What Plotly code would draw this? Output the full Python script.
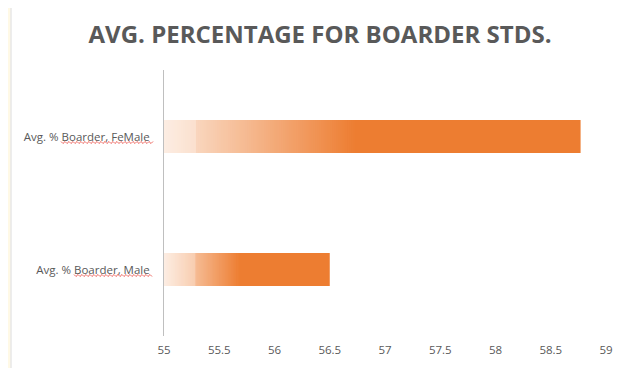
import numpy as np
import plotly.graph_objects as go

# ---- data ----
categories = ["Avg. % Boarder, Male", "Avg. % Boarder, FeMale"]
values = [56.5, 58.77]
tick_vals = [55, 55.5, 56, 56.5, 57, 57.5, 58, 58.5, 59]
tick_text = ["55", "55.5", "56", "56.5", "57", "57.5", "58", "58.5", "59"]
title_text = "AVG. PERCENTAGE FOR BOARDER STDS."

AXIS_MIN, AXIS_MAX = 55, 59
ORANGE = np.array([237, 125, 49])
WHITE = np.array([255, 255, 255])
N_SEG = 90
GRAD_FRAC = 0.46      # share of the bar covered by the fade-in
STEP_AT = 55.28       # lighter patch at the start of each bar


def mix(t):
    c = WHITE + (ORANGE - WHITE) * t
    return "rgb(%d,%d,%d)" % tuple(np.round(c).astype(int))


def shade(x, g_end):
    f = (x - AXIS_MIN) / (g_end - AXIS_MIN)
    t = min(1.0, 0.18 + 0.82 * f)
    if x < STEP_AT:
        t *= 0.75
    return t


fig = go.Figure()
for cat, v in zip(categories, values):
    span = v - AXIS_MIN
    g_end = AXIS_MIN + span * GRAD_FRAC
    # nested bars, all starting at the axis minimum: longest (full orange) first,
    # then progressively shorter & lighter ones drawn on top -> seamless gradient
    grad_ends = list(np.linspace(g_end, AXIS_MIN, N_SEG + 1)[:-1])
    ends = [v] + grad_ends
    step = (g_end - AXIS_MIN) / N_SEG
    cols = [mix(1.0)] + [mix(shade(e - step / 2, g_end)) for e in grad_ends]
    widths = [e - AXIS_MIN for e in ends]
    fig.add_trace(go.Bar(
        y=[cat] * len(widths), x=widths, base=[AXIS_MIN] * len(widths), orientation="h",
        marker=dict(color=cols, line=dict(width=0)),
        showlegend=False, hoverinfo="skip"))

# page body has an 8px margin, so figure coords = target coords - 8
OFF = 8
W, H = 631, 368
PL, PR, PT, PB = 164, 606, 70, 336   # plot area in target pixels
L = PL - OFF
R = W - (PR - OFF)
T = PT - OFF
B = H - (PB - OFF)
pw, ph = W - L - R, H - T - B
BAR_PX = 33
bargap = 1 - BAR_PX / (ph / len(categories))


def px_x(px):
    return (px - OFF - L) / pw


def px_y(py):
    return (H - B - (py - OFF)) / ph


# light cream strip at left edge and chart border
fig.add_shape(type="rect", xref="paper", yref="paper",
              x0=px_x(0), x1=px_x(10.5), y0=px_y(0), y1=px_y(380),
              fillcolor="#fff9e6", line=dict(width=0), layer="below")
fig.add_shape(type="line", xref="paper", yref="paper",
              x0=px_x(11), x1=px_x(11), y0=px_y(0), y1=px_y(380),
              line=dict(color="#dcdcdc", width=1), layer="below")


# red spell-check squiggles under the labels
def squiggle(x0, x1, y):
    pts = []
    x = x0
    k = 0
    while x <= x1:
        yy = y + (1.5 if k % 2 else -0.5)
        pts.append((px_x(x), px_y(yy)))
        x += 2
        k += 1
    return "M " + " L ".join("%.5f,%.5f" % p for p in pts)


for (sx0, sx1, sy) in [(61, 153, 142), (74, 153, 275)]:
    fig.add_shape(type="path", xref="paper", yref="paper", path=squiggle(sx0, sx1, sy),
                  line=dict(color="#e8433a", width=0.8))

fig.update_layout(
    width=W, height=H,
    margin=dict(l=L, r=R, t=T, b=B),
    paper_bgcolor="white",
    plot_bgcolor="rgba(0,0,0,0)",
    barmode="overlay",
    bargap=bargap,
    title=dict(text="<b>" + title_text + "</b>", x=(320 - OFF) / W, xanchor="center",
               xref="container",
               y=1 - (35 - OFF) / H, yanchor="middle",
               font=dict(family="Open Sans", size=24, color="#595959")),
    xaxis=dict(range=[AXIS_MIN, AXIS_MAX], tickvals=tick_vals, ticktext=tick_text,
               showgrid=False, zeroline=False, showline=False, ticks="",
               ticklabelstandoff=5,
               tickfont=dict(family="Open Sans", size=11.5, color="#595959")),
    yaxis=dict(categoryorder="array", categoryarray=categories,
               showgrid=False, zeroline=False, showline=True, linecolor="#bfbfbf",
               linewidth=1, ticks="", ticklabelstandoff=11,
               tickfont=dict(family="Open Sans", size=11.5, color="#595959")),
    font=dict(family="Open Sans"),
)

fig.write_html("out.html")
